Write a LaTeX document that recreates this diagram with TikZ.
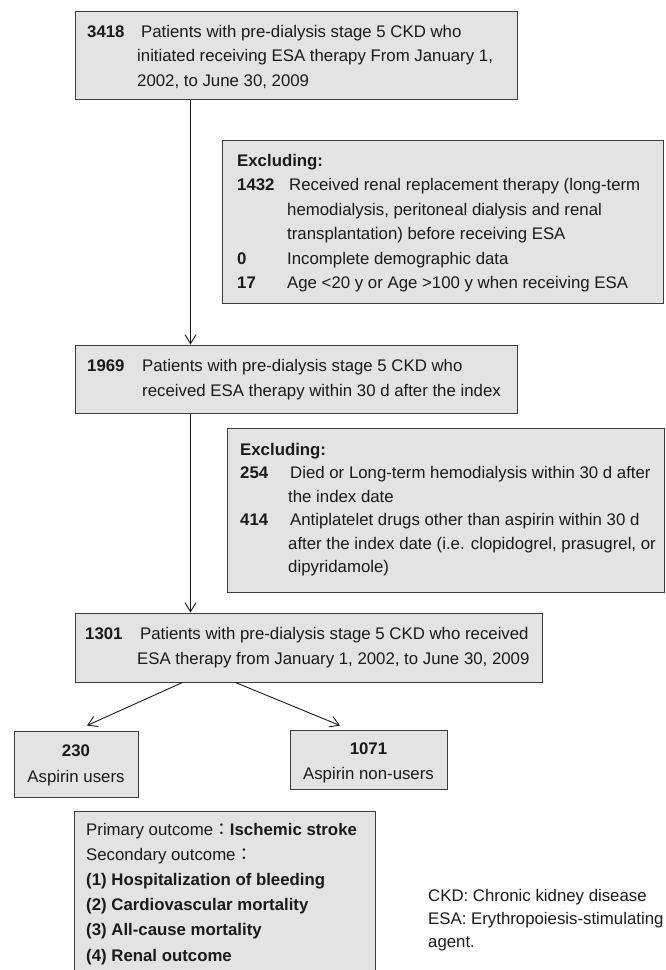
\documentclass[tikz,border=0pt]{standalone}
\usepackage{fontspec}
\setmainfont{Liberation Sans}
\newfontfamily\cjk{Noto Sans CJK TC}
\usetikzlibrary{arrows.meta}
\definecolor{boxfill}{HTML}{E3E3E3}
\definecolor{boxline}{HTML}{3C3C3C}
\definecolor{inkgray}{HTML}{1A1A1A}
\tikzset{
  flowbox/.style={draw=boxline, fill=boxfill, line width=1pt, rectangle, inner sep=0pt},
  txt/.style={anchor=base west, inner sep=0pt, text=inkgray, font=\fontsize{16.8}{#1}\selectfont},
  txt/.default=24.5,
  link/.style={draw=inkgray, line width=0.9pt, -{Straight Barb[length=9pt,width=11pt]}},
}
\begin{document}
\begin{tikzpicture}[x=1pt, y=-1pt]
  \useasboundingbox (0,0) rectangle (665,970);

  % boxes
  \node[flowbox, minimum width=442pt, minimum height=88pt] (start) at (296,55) {};
  \node[flowbox, minimum width=441pt, minimum height=163pt] (excla) at (443,221.5) {};
  \node[flowbox, minimum width=442pt, minimum height=68pt] (esa) at (296,379) {};
  \node[flowbox, minimum width=437pt, minimum height=164pt] (exclb) at (445.5,510) {};
  \node[flowbox, minimum width=467pt, minimum height=69pt] (cohort) at (308.5,647.5) {};
  \node[flowbox, minimum width=124pt, minimum height=66pt] (users) at (76,764) {};
  \node[flowbox, minimum width=157pt, minimum height=59pt] (nonusers) at (368.5,759.5) {};
  \node[flowbox, minimum width=301pt, minimum height=164pt] (outcome) at (224.5,893) {};

  % texts
  \node[txt] (starttext) at (87,37) {\begin{tabular}[t]{@{}p{50pt}@{}l@{}}
    \textbf{3418} & \hspace{4pt}Patients with pre-dialysis stage 5 CKD who\\
    & initiated receiving ESA therapy From January 1,\\
    & 2002, to June 30, 2009
  \end{tabular}};
  \node[txt] (exclatext) at (237,166) {\begin{tabular}[t]{@{}p{50pt}@{}l@{}}
    \multicolumn{2}{@{}l@{}}{\textbf{Excluding:}}\\
    \textbf{1432} & \hspace{2pt}Received renal replacement therapy (long-term\\
    & hemodialysis, peritoneal dialysis and renal\\
    & transplantation) before receiving ESA\\
    \textbf{0} & Incomplete demographic data\\
    \textbf{17} & Age {<}20 y or Age {>}100 y when receiving ESA
  \end{tabular}};
  \node[txt=25] (esatext) at (87,371) {\begin{tabular}[t]{@{}p{55pt}@{}l@{}}
    \textbf{1969} & Patients with pre-dialysis stage 5 CKD who\\
    & received ESA therapy within 30 d after the index
  \end{tabular}};
  \node[txt=23.5] (exclbtext) at (240,455) {\begin{tabular}[t]{@{}p{48pt}@{}l@{}}
    \multicolumn{2}{@{}l@{}}{\textbf{Excluding:}}\\
    \textbf{254} & \hspace{2pt}Died or Long-term hemodialysis within 30 d after\\
    & the index date\\
    \textbf{414} & \hspace{2pt}Antiplatelet drugs other than aspirin within 30 d\\
    & after the index date (i.e. clopidogrel, prasugrel, or\\
    & dipyridamole)
  \end{tabular}};
  \node[txt=25] (cohorttext) at (85,639) {\begin{tabular}[t]{@{}p{52pt}@{}l@{}}
    \textbf{1301} & \hspace{3pt}Patients with pre-dialysis stage 5 CKD who received\\
    & ESA therapy from January 1, 2002, to June 30, 2009
  \end{tabular}};
  \node[txt, anchor=base] (usersnum) at (76,756) {\textbf{230}};
  \node[txt, anchor=base] (userslabel) at (76,782) {Aspirin users};
  \node[txt, anchor=base] (nonusersnum) at (368.5,754) {\textbf{1071}};
  \node[txt, anchor=base] (nonuserslabel) at (368.5,779) {Aspirin non-users};
  \node[txt=25.2] (outcometext) at (86,835) {\begin{tabular}[t]{@{}l@{}}
    Primary outcome{\cjk ：}\textbf{Ischemic stroke}\\
    Secondary outcome{\cjk ：}\\
    \textbf{(1) Hospitalization of bleeding}\\
    \textbf{(2) Cardiovascular mortality}\\
    \textbf{(3) All-cause mortality}\\
    \textbf{(4) Renal outcome}
  \end{tabular}};
  \node[txt=23] (legend) at (428,901) {\begin{tabular}[t]{@{}l@{}}
    CKD: Chronic kidney disease\\
    ESA: Erythropoiesis-stimulating\\
    agent.
  \end{tabular}};

  % connectors
  \draw[link] ([xshift=116pt]start.south west) -- ([xshift=116pt]esa.north west);
  \draw[link] ([xshift=116pt]esa.south west) -- ([xshift=116pt]cohort.north west);
  \draw[link] ([xshift=108pt]cohort.south west) -- ([shift={(11pt,5pt)}]users.north);
  \draw[link] ([xshift=161pt]cohort.south west) -- ([shift={(-28.5pt,4pt)}]nonusers.north);
\end{tikzpicture}
\end{document}
